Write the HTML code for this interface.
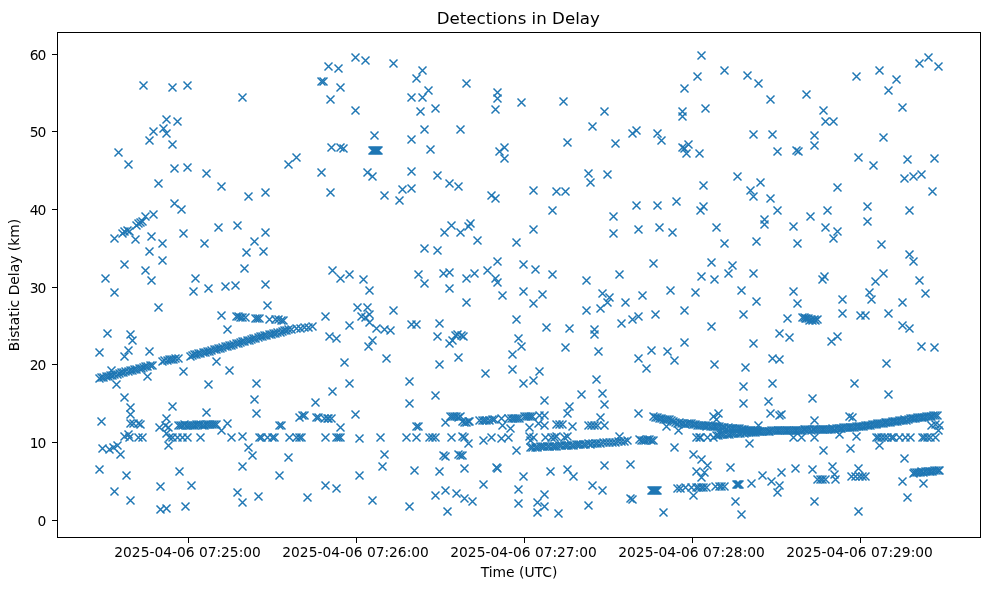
<!DOCTYPE html>
<html lang="en"><head><meta charset="utf-8"><title>Detections in Delay</title>
<style>html,body{margin:0;padding:0;background:#fff}svg{display:block}text{font-family:"DejaVu Sans","Liberation Sans",sans-serif;fill:#000}</style></head><body>
<svg width="990" height="590" viewBox="0 0 990 590">
<rect width="990" height="590" fill="#fff"/>
<g fill="none" stroke="#1f77b4" stroke-width="1.5">
<path d="M139.5 81.5l8 8m-8 0l8-8"/>
<path d="M168.5 83.5l8 8m-8 0l8-8"/>
<path d="M183.5 81.5l8 8m-8 0l8-8"/>
<path d="M238.5 93.5l8 8m-8 0l8-8"/>
<path d="M162.5 115.5l8 8m-8 0l8-8"/>
<path d="M173.5 117.5l8 8m-8 0l8-8"/>
<path d="M159.5 124.5l8 8m-8 0l8-8"/>
<path d="M149.5 127.5l8 8m-8 0l8-8"/>
<path d="M162.5 129.5l8 8m-8 0l8-8"/>
<path d="M145.5 136.5l8 8m-8 0l8-8"/>
<path d="M168.5 140.5l8 8m-8 0l8-8"/>
<path d="M114.5 148.5l8 8m-8 0l8-8"/>
<path d="M124.5 160.5l8 8m-8 0l8-8"/>
<path d="M170.5 164.5l8 8m-8 0l8-8"/>
<path d="M183.5 163.5l8 8m-8 0l8-8"/>
<path d="M202.5 169.5l8 8m-8 0l8-8"/>
<path d="M284.5 160.5l8 8m-8 0l8-8"/>
<path d="M292.5 153.5l8 8m-8 0l8-8"/>
<path d="M351.5 53.5l8 8m-8 0l8-8"/>
<path d="M361.5 56.5l8 8m-8 0l8-8"/>
<path d="M389.5 59.5l8 8m-8 0l8-8"/>
<path d="M324.5 62.5l8 8m-8 0l8-8"/>
<path d="M334.5 64.5l8 8m-8 0l8-8"/>
<path d="M418.5 66.5l8 8m-8 0l8-8"/>
<path d="M412.5 74.5l8 8m-8 0l8-8"/>
<path d="M317.5 77.5l8 8m-8 0l8-8"/>
<path d="M319.5 77.5l8 8m-8 0l8-8"/>
<path d="M462.5 79.5l8 8m-8 0l8-8"/>
<path d="M336.5 83.5l8 8m-8 0l8-8"/>
<path d="M424.5 86.5l8 8m-8 0l8-8"/>
<path d="M493.5 88.5l8 8m-8 0l8-8"/>
<path d="M407.5 93.5l8 8m-8 0l8-8"/>
<path d="M418.5 93.5l8 8m-8 0l8-8"/>
<path d="M493.5 94.5l8 8m-8 0l8-8"/>
<path d="M326.5 95.5l8 8m-8 0l8-8"/>
<path d="M517.5 98.5l8 8m-8 0l8-8"/>
<path d="M431.5 104.5l8 8m-8 0l8-8"/>
<path d="M491.5 105.5l8 8m-8 0l8-8"/>
<path d="M351.5 106.5l8 8m-8 0l8-8"/>
<path d="M416.5 107.5l8 8m-8 0l8-8"/>
<path d="M420.5 125.5l8 8m-8 0l8-8"/>
<path d="M456.5 125.5l8 8m-8 0l8-8"/>
<path d="M370.5 131.5l8 8m-8 0l8-8"/>
<path d="M407.5 135.5l8 8m-8 0l8-8"/>
<path d="M327.5 143.5l8 8m-8 0l8-8"/>
<path d="M336.5 143.5l8 8m-8 0l8-8"/>
<path d="M339.5 144.5l8 8m-8 0l8-8"/>
<path d="M500.5 143.5l8 8m-8 0l8-8"/>
<path d="M495.5 147.5l8 8m-8 0l8-8"/>
<path d="M426.5 145.5l8 8m-8 0l8-8"/>
<path d="M368.5 146.5l8 8m-8 0l8-8"/>
<path d="M369.5 146.5l8 8m-8 0l8-8"/>
<path d="M370.5 146.5l8 8m-8 0l8-8"/>
<path d="M371.5 146.5l8 8m-8 0l8-8"/>
<path d="M372.5 146.5l8 8m-8 0l8-8"/>
<path d="M373.5 146.5l8 8m-8 0l8-8"/>
<path d="M374.5 146.5l8 8m-8 0l8-8"/>
<path d="M500.5 154.5l8 8m-8 0l8-8"/>
<path d="M317.5 168.5l8 8m-8 0l8-8"/>
<path d="M407.5 167.5l8 8m-8 0l8-8"/>
<path d="M363.5 168.5l8 8m-8 0l8-8"/>
<path d="M368.5 172.5l8 8m-8 0l8-8"/>
<path d="M433.5 171.5l8 8m-8 0l8-8"/>
<path d="M697.5 51.5l8 8m-8 0l8-8"/>
<path d="M720.5 66.5l8 8m-8 0l8-8"/>
<path d="M693.5 72.5l8 8m-8 0l8-8"/>
<path d="M743.5 71.5l8 8m-8 0l8-8"/>
<path d="M754.5 79.5l8 8m-8 0l8-8"/>
<path d="M680.5 84.5l8 8m-8 0l8-8"/>
<path d="M766.5 95.5l8 8m-8 0l8-8"/>
<path d="M559.5 97.5l8 8m-8 0l8-8"/>
<path d="M701.5 104.5l8 8m-8 0l8-8"/>
<path d="M600.5 107.5l8 8m-8 0l8-8"/>
<path d="M678.5 107.5l8 8m-8 0l8-8"/>
<path d="M678.5 112.5l8 8m-8 0l8-8"/>
<path d="M588.5 122.5l8 8m-8 0l8-8"/>
<path d="M632.5 126.5l8 8m-8 0l8-8"/>
<path d="M628.5 129.5l8 8m-8 0l8-8"/>
<path d="M653.5 129.5l8 8m-8 0l8-8"/>
<path d="M749.5 130.5l8 8m-8 0l8-8"/>
<path d="M768.5 130.5l8 8m-8 0l8-8"/>
<path d="M657.5 136.5l8 8m-8 0l8-8"/>
<path d="M563.5 138.5l8 8m-8 0l8-8"/>
<path d="M611.5 139.5l8 8m-8 0l8-8"/>
<path d="M684.5 140.5l8 8m-8 0l8-8"/>
<path d="M678.5 143.5l8 8m-8 0l8-8"/>
<path d="M680.5 144.5l8 8m-8 0l8-8"/>
<path d="M682.5 149.5l8 8m-8 0l8-8"/>
<path d="M695.5 149.5l8 8m-8 0l8-8"/>
<path d="M773.5 147.5l8 8m-8 0l8-8"/>
<path d="M792.5 146.5l8 8m-8 0l8-8"/>
<path d="M794.5 147.5l8 8m-8 0l8-8"/>
<path d="M584.5 169.5l8 8m-8 0l8-8"/>
<path d="M603.5 170.5l8 8m-8 0l8-8"/>
<path d="M733.5 172.5l8 8m-8 0l8-8"/>
<path d="M802.5 90.5l8 8m-8 0l8-8"/>
<path d="M819.5 106.5l8 8m-8 0l8-8"/>
<path d="M821.5 117.5l8 8m-8 0l8-8"/>
<path d="M829.5 117.5l8 8m-8 0l8-8"/>
<path d="M810.5 131.5l8 8m-8 0l8-8"/>
<path d="M810.5 141.5l8 8m-8 0l8-8"/>
<path d="M852.5 72.5l8 8m-8 0l8-8"/>
<path d="M875.5 66.5l8 8m-8 0l8-8"/>
<path d="M892.5 75.5l8 8m-8 0l8-8"/>
<path d="M884.5 86.5l8 8m-8 0l8-8"/>
<path d="M898.5 103.5l8 8m-8 0l8-8"/>
<path d="M915.5 59.5l8 8m-8 0l8-8"/>
<path d="M924.5 53.5l8 8m-8 0l8-8"/>
<path d="M934.5 62.5l8 8m-8 0l8-8"/>
<path d="M879.5 133.5l8 8m-8 0l8-8"/>
<path d="M854.5 153.5l8 8m-8 0l8-8"/>
<path d="M869.5 161.5l8 8m-8 0l8-8"/>
<path d="M903.5 155.5l8 8m-8 0l8-8"/>
<path d="M930.5 154.5l8 8m-8 0l8-8"/>
<path d="M917.5 170.5l8 8m-8 0l8-8"/>
<path d="M909.5 172.5l8 8m-8 0l8-8"/>
<path d="M900.5 174.5l8 8m-8 0l8-8"/>
<path d="M154.5 179.5l8 8m-8 0l8-8"/>
<path d="M217.5 182.5l8 8m-8 0l8-8"/>
<path d="M261.5 188.5l8 8m-8 0l8-8"/>
<path d="M244.5 192.5l8 8m-8 0l8-8"/>
<path d="M170.5 199.5l8 8m-8 0l8-8"/>
<path d="M177.5 205.5l8 8m-8 0l8-8"/>
<path d="M149.5 210.5l8 8m-8 0l8-8"/>
<path d="M141.5 212.5l8 8m-8 0l8-8"/>
<path d="M110.5 234.5l8 8m-8 0l8-8"/>
<path d="M118.5 229.5l8 8m-8 0l8-8"/>
<path d="M120.5 227.5l8 8m-8 0l8-8"/>
<path d="M123.5 226.5l8 8m-8 0l8-8"/>
<path d="M125.5 227.5l8 8m-8 0l8-8"/>
<path d="M132.5 221.5l8 8m-8 0l8-8"/>
<path d="M134.5 219.5l8 8m-8 0l8-8"/>
<path d="M136.5 218.5l8 8m-8 0l8-8"/>
<path d="M138.5 217.5l8 8m-8 0l8-8"/>
<path d="M131.5 235.5l8 8m-8 0l8-8"/>
<path d="M147.5 232.5l8 8m-8 0l8-8"/>
<path d="M158.5 239.5l8 8m-8 0l8-8"/>
<path d="M179.5 229.5l8 8m-8 0l8-8"/>
<path d="M214.5 223.5l8 8m-8 0l8-8"/>
<path d="M233.5 221.5l8 8m-8 0l8-8"/>
<path d="M261.5 228.5l8 8m-8 0l8-8"/>
<path d="M250.5 237.5l8 8m-8 0l8-8"/>
<path d="M200.5 239.5l8 8m-8 0l8-8"/>
<path d="M145.5 247.5l8 8m-8 0l8-8"/>
<path d="M242.5 248.5l8 8m-8 0l8-8"/>
<path d="M259.5 247.5l8 8m-8 0l8-8"/>
<path d="M158.5 256.5l8 8m-8 0l8-8"/>
<path d="M120.5 260.5l8 8m-8 0l8-8"/>
<path d="M141.5 266.5l8 8m-8 0l8-8"/>
<path d="M240.5 264.5l8 8m-8 0l8-8"/>
<path d="M101.5 274.5l8 8m-8 0l8-8"/>
<path d="M147.5 276.5l8 8m-8 0l8-8"/>
<path d="M191.5 274.5l8 8m-8 0l8-8"/>
<path d="M110.5 288.5l8 8m-8 0l8-8"/>
<path d="M189.5 287.5l8 8m-8 0l8-8"/>
<path d="M204.5 284.5l8 8m-8 0l8-8"/>
<path d="M221.5 282.5l8 8m-8 0l8-8"/>
<path d="M231.5 281.5l8 8m-8 0l8-8"/>
<path d="M261.5 280.5l8 8m-8 0l8-8"/>
<path d="M154.5 303.5l8 8m-8 0l8-8"/>
<path d="M263.5 301.5l8 8m-8 0l8-8"/>
<path d="M217.5 311.5l8 8m-8 0l8-8"/>
<path d="M232.5 312.5l8 8m-8 0l8-8"/>
<path d="M234.5 312.5l8 8m-8 0l8-8"/>
<path d="M236.5 313.5l8 8m-8 0l8-8"/>
<path d="M238.5 313.5l8 8m-8 0l8-8"/>
<path d="M241.5 313.5l8 8m-8 0l8-8"/>
<path d="M251.5 314.5l8 8m-8 0l8-8"/>
<path d="M253.5 314.5l8 8m-8 0l8-8"/>
<path d="M255.5 314.5l8 8m-8 0l8-8"/>
<path d="M265.5 315.5l8 8m-8 0l8-8"/>
<path d="M271.5 315.5l8 8m-8 0l8-8"/>
<path d="M274.5 315.5l8 8m-8 0l8-8"/>
<path d="M277.5 316.5l8 8m-8 0l8-8"/>
<path d="M279.5 316.5l8 8m-8 0l8-8"/>
<path d="M223.5 325.5l8 8m-8 0l8-8"/>
<path d="M445.5 179.5l8 8m-8 0l8-8"/>
<path d="M454.5 182.5l8 8m-8 0l8-8"/>
<path d="M326.5 188.5l8 8m-8 0l8-8"/>
<path d="M398.5 185.5l8 8m-8 0l8-8"/>
<path d="M407.5 184.5l8 8m-8 0l8-8"/>
<path d="M380.5 191.5l8 8m-8 0l8-8"/>
<path d="M395.5 196.5l8 8m-8 0l8-8"/>
<path d="M487.5 191.5l8 8m-8 0l8-8"/>
<path d="M491.5 194.5l8 8m-8 0l8-8"/>
<path d="M529.5 186.5l8 8m-8 0l8-8"/>
<path d="M548.5 206.5l8 8m-8 0l8-8"/>
<path d="M447.5 221.5l8 8m-8 0l8-8"/>
<path d="M466.5 219.5l8 8m-8 0l8-8"/>
<path d="M464.5 222.5l8 8m-8 0l8-8"/>
<path d="M440.5 228.5l8 8m-8 0l8-8"/>
<path d="M456.5 228.5l8 8m-8 0l8-8"/>
<path d="M473.5 236.5l8 8m-8 0l8-8"/>
<path d="M529.5 225.5l8 8m-8 0l8-8"/>
<path d="M512.5 238.5l8 8m-8 0l8-8"/>
<path d="M420.5 244.5l8 8m-8 0l8-8"/>
<path d="M433.5 246.5l8 8m-8 0l8-8"/>
<path d="M493.5 257.5l8 8m-8 0l8-8"/>
<path d="M519.5 260.5l8 8m-8 0l8-8"/>
<path d="M531.5 265.5l8 8m-8 0l8-8"/>
<path d="M328.5 266.5l8 8m-8 0l8-8"/>
<path d="M483.5 266.5l8 8m-8 0l8-8"/>
<path d="M345.5 270.5l8 8m-8 0l8-8"/>
<path d="M336.5 274.5l8 8m-8 0l8-8"/>
<path d="M359.5 275.5l8 8m-8 0l8-8"/>
<path d="M414.5 270.5l8 8m-8 0l8-8"/>
<path d="M439.5 269.5l8 8m-8 0l8-8"/>
<path d="M445.5 268.5l8 8m-8 0l8-8"/>
<path d="M470.5 269.5l8 8m-8 0l8-8"/>
<path d="M462.5 274.5l8 8m-8 0l8-8"/>
<path d="M491.5 274.5l8 8m-8 0l8-8"/>
<path d="M493.5 278.5l8 8m-8 0l8-8"/>
<path d="M548.5 270.5l8 8m-8 0l8-8"/>
<path d="M420.5 279.5l8 8m-8 0l8-8"/>
<path d="M445.5 284.5l8 8m-8 0l8-8"/>
<path d="M365.5 286.5l8 8m-8 0l8-8"/>
<path d="M519.5 287.5l8 8m-8 0l8-8"/>
<path d="M538.5 290.5l8 8m-8 0l8-8"/>
<path d="M498.5 291.5l8 8m-8 0l8-8"/>
<path d="M462.5 298.5l8 8m-8 0l8-8"/>
<path d="M529.5 299.5l8 8m-8 0l8-8"/>
<path d="M353.5 303.5l8 8m-8 0l8-8"/>
<path d="M363.5 303.5l8 8m-8 0l8-8"/>
<path d="M389.5 306.5l8 8m-8 0l8-8"/>
<path d="M321.5 312.5l8 8m-8 0l8-8"/>
<path d="M357.5 312.5l8 8m-8 0l8-8"/>
<path d="M361.5 313.5l8 8m-8 0l8-8"/>
<path d="M365.5 310.5l8 8m-8 0l8-8"/>
<path d="M512.5 315.5l8 8m-8 0l8-8"/>
<path d="M345.5 321.5l8 8m-8 0l8-8"/>
<path d="M365.5 318.5l8 8m-8 0l8-8"/>
<path d="M372.5 324.5l8 8m-8 0l8-8"/>
<path d="M380.5 325.5l8 8m-8 0l8-8"/>
<path d="M386.5 326.5l8 8m-8 0l8-8"/>
<path d="M407.5 320.5l8 8m-8 0l8-8"/>
<path d="M412.5 320.5l8 8m-8 0l8-8"/>
<path d="M435.5 319.5l8 8m-8 0l8-8"/>
<path d="M542.5 323.5l8 8m-8 0l8-8"/>
<path d="M586.5 178.5l8 8m-8 0l8-8"/>
<path d="M756.5 178.5l8 8m-8 0l8-8"/>
<path d="M552.5 187.5l8 8m-8 0l8-8"/>
<path d="M561.5 187.5l8 8m-8 0l8-8"/>
<path d="M699.5 181.5l8 8m-8 0l8-8"/>
<path d="M746.5 186.5l8 8m-8 0l8-8"/>
<path d="M749.5 192.5l8 8m-8 0l8-8"/>
<path d="M766.5 194.5l8 8m-8 0l8-8"/>
<path d="M773.5 206.5l8 8m-8 0l8-8"/>
<path d="M632.5 201.5l8 8m-8 0l8-8"/>
<path d="M653.5 201.5l8 8m-8 0l8-8"/>
<path d="M672.5 197.5l8 8m-8 0l8-8"/>
<path d="M699.5 202.5l8 8m-8 0l8-8"/>
<path d="M696.5 206.5l8 8m-8 0l8-8"/>
<path d="M609.5 212.5l8 8m-8 0l8-8"/>
<path d="M760.5 215.5l8 8m-8 0l8-8"/>
<path d="M760.5 220.5l8 8m-8 0l8-8"/>
<path d="M789.5 222.5l8 8m-8 0l8-8"/>
<path d="M634.5 225.5l8 8m-8 0l8-8"/>
<path d="M655.5 223.5l8 8m-8 0l8-8"/>
<path d="M668.5 228.5l8 8m-8 0l8-8"/>
<path d="M609.5 229.5l8 8m-8 0l8-8"/>
<path d="M712.5 223.5l8 8m-8 0l8-8"/>
<path d="M720.5 239.5l8 8m-8 0l8-8"/>
<path d="M752.5 237.5l8 8m-8 0l8-8"/>
<path d="M793.5 239.5l8 8m-8 0l8-8"/>
<path d="M649.5 259.5l8 8m-8 0l8-8"/>
<path d="M707.5 258.5l8 8m-8 0l8-8"/>
<path d="M728.5 261.5l8 8m-8 0l8-8"/>
<path d="M615.5 270.5l8 8m-8 0l8-8"/>
<path d="M724.5 269.5l8 8m-8 0l8-8"/>
<path d="M749.5 269.5l8 8m-8 0l8-8"/>
<path d="M697.5 272.5l8 8m-8 0l8-8"/>
<path d="M710.5 275.5l8 8m-8 0l8-8"/>
<path d="M582.5 276.5l8 8m-8 0l8-8"/>
<path d="M666.5 286.5l8 8m-8 0l8-8"/>
<path d="M691.5 288.5l8 8m-8 0l8-8"/>
<path d="M737.5 286.5l8 8m-8 0l8-8"/>
<path d="M789.5 287.5l8 8m-8 0l8-8"/>
<path d="M598.5 289.5l8 8m-8 0l8-8"/>
<path d="M605.5 293.5l8 8m-8 0l8-8"/>
<path d="M638.5 291.5l8 8m-8 0l8-8"/>
<path d="M603.5 298.5l8 8m-8 0l8-8"/>
<path d="M621.5 298.5l8 8m-8 0l8-8"/>
<path d="M752.5 297.5l8 8m-8 0l8-8"/>
<path d="M793.5 299.5l8 8m-8 0l8-8"/>
<path d="M582.5 306.5l8 8m-8 0l8-8"/>
<path d="M596.5 304.5l8 8m-8 0l8-8"/>
<path d="M680.5 306.5l8 8m-8 0l8-8"/>
<path d="M651.5 310.5l8 8m-8 0l8-8"/>
<path d="M739.5 310.5l8 8m-8 0l8-8"/>
<path d="M634.5 312.5l8 8m-8 0l8-8"/>
<path d="M628.5 315.5l8 8m-8 0l8-8"/>
<path d="M617.5 319.5l8 8m-8 0l8-8"/>
<path d="M783.5 314.5l8 8m-8 0l8-8"/>
<path d="M565.5 324.5l8 8m-8 0l8-8"/>
<path d="M590.5 325.5l8 8m-8 0l8-8"/>
<path d="M707.5 322.5l8 8m-8 0l8-8"/>
<path d="M833.5 183.5l8 8m-8 0l8-8"/>
<path d="M928.5 187.5l8 8m-8 0l8-8"/>
<path d="M806.5 212.5l8 8m-8 0l8-8"/>
<path d="M823.5 206.5l8 8m-8 0l8-8"/>
<path d="M863.5 202.5l8 8m-8 0l8-8"/>
<path d="M905.5 206.5l8 8m-8 0l8-8"/>
<path d="M821.5 223.5l8 8m-8 0l8-8"/>
<path d="M833.5 227.5l8 8m-8 0l8-8"/>
<path d="M863.5 217.5l8 8m-8 0l8-8"/>
<path d="M829.5 234.5l8 8m-8 0l8-8"/>
<path d="M877.5 240.5l8 8m-8 0l8-8"/>
<path d="M905.5 250.5l8 8m-8 0l8-8"/>
<path d="M909.5 257.5l8 8m-8 0l8-8"/>
<path d="M820.5 272.5l8 8m-8 0l8-8"/>
<path d="M818.5 275.5l8 8m-8 0l8-8"/>
<path d="M879.5 269.5l8 8m-8 0l8-8"/>
<path d="M871.5 277.5l8 8m-8 0l8-8"/>
<path d="M915.5 276.5l8 8m-8 0l8-8"/>
<path d="M865.5 288.5l8 8m-8 0l8-8"/>
<path d="M921.5 289.5l8 8m-8 0l8-8"/>
<path d="M838.5 295.5l8 8m-8 0l8-8"/>
<path d="M867.5 295.5l8 8m-8 0l8-8"/>
<path d="M898.5 298.5l8 8m-8 0l8-8"/>
<path d="M838.5 309.5l8 8m-8 0l8-8"/>
<path d="M856.5 311.5l8 8m-8 0l8-8"/>
<path d="M861.5 311.5l8 8m-8 0l8-8"/>
<path d="M884.5 309.5l8 8m-8 0l8-8"/>
<path d="M898.5 321.5l8 8m-8 0l8-8"/>
<path d="M905.5 324.5l8 8m-8 0l8-8"/>
<path d="M103.5 329.5l8 8m-8 0l8-8"/>
<path d="M126.5 330.5l8 8m-8 0l8-8"/>
<path d="M128.5 336.5l8 8m-8 0l8-8"/>
<path d="M95.5 348.5l8 8m-8 0l8-8"/>
<path d="M124.5 346.5l8 8m-8 0l8-8"/>
<path d="M120.5 352.5l8 8m-8 0l8-8"/>
<path d="M145.5 347.5l8 8m-8 0l8-8"/>
<path d="M143.5 372.5l8 8m-8 0l8-8"/>
<path d="M179.5 367.5l8 8m-8 0l8-8"/>
<path d="M212.5 357.5l8 8m-8 0l8-8"/>
<path d="M225.5 366.5l8 8m-8 0l8-8"/>
<path d="M112.5 380.5l8 8m-8 0l8-8"/>
<path d="M204.5 380.5l8 8m-8 0l8-8"/>
<path d="M252.5 379.5l8 8m-8 0l8-8"/>
<path d="M122.5 471.5l8 8m-8 0l8-8"/>
<path d="M275.5 471.5l8 8m-8 0l8-8"/>
<path d="M120.5 393.5l8 8m-8 0l8-8"/>
<path d="M126.5 403.5l8 8m-8 0l8-8"/>
<path d="M126.5 410.5l8 8m-8 0l8-8"/>
<path d="M97.5 417.5l8 8m-8 0l8-8"/>
<path d="M126.5 419.5l8 8m-8 0l8-8"/>
<path d="M129.5 419.5l8 8m-8 0l8-8"/>
<path d="M134.5 419.5l8 8m-8 0l8-8"/>
<path d="M136.5 420.5l8 8m-8 0l8-8"/>
<path d="M168.5 402.5l8 8m-8 0l8-8"/>
<path d="M202.5 408.5l8 8m-8 0l8-8"/>
<path d="M162.5 414.5l8 8m-8 0l8-8"/>
<path d="M155.5 423.5l8 8m-8 0l8-8"/>
<path d="M161.5 421.5l8 8m-8 0l8-8"/>
<path d="M164.5 423.5l8 8m-8 0l8-8"/>
<path d="M162.5 429.5l8 8m-8 0l8-8"/>
<path d="M120.5 432.5l8 8m-8 0l8-8"/>
<path d="M124.5 430.5l8 8m-8 0l8-8"/>
<path d="M125.5 433.5l8 8m-8 0l8-8"/>
<path d="M134.5 433.5l8 8m-8 0l8-8"/>
<path d="M138.5 433.5l8 8m-8 0l8-8"/>
<path d="M165.5 433.5l8 8m-8 0l8-8"/>
<path d="M168.5 433.5l8 8m-8 0l8-8"/>
<path d="M173.5 433.5l8 8m-8 0l8-8"/>
<path d="M178.5 433.5l8 8m-8 0l8-8"/>
<path d="M183.5 433.5l8 8m-8 0l8-8"/>
<path d="M196.5 433.5l8 8m-8 0l8-8"/>
<path d="M164.5 441.5l8 8m-8 0l8-8"/>
<path d="M98.5 444.5l8 8m-8 0l8-8"/>
<path d="M105.5 445.5l8 8m-8 0l8-8"/>
<path d="M109.5 443.5l8 8m-8 0l8-8"/>
<path d="M113.5 441.5l8 8m-8 0l8-8"/>
<path d="M116.5 450.5l8 8m-8 0l8-8"/>
<path d="M95.5 465.5l8 8m-8 0l8-8"/>
<path d="M175.5 467.5l8 8m-8 0l8-8"/>
<path d="M223.5 419.5l8 8m-8 0l8-8"/>
<path d="M217.5 426.5l8 8m-8 0l8-8"/>
<path d="M227.5 433.5l8 8m-8 0l8-8"/>
<path d="M238.5 432.5l8 8m-8 0l8-8"/>
<path d="M250.5 395.5l8 8m-8 0l8-8"/>
<path d="M252.5 409.5l8 8m-8 0l8-8"/>
<path d="M244.5 443.5l8 8m-8 0l8-8"/>
<path d="M248.5 451.5l8 8m-8 0l8-8"/>
<path d="M238.5 462.5l8 8m-8 0l8-8"/>
<path d="M255.5 433.5l8 8m-8 0l8-8"/>
<path d="M257.5 433.5l8 8m-8 0l8-8"/>
<path d="M263.5 433.5l8 8m-8 0l8-8"/>
<path d="M268.5 433.5l8 8m-8 0l8-8"/>
<path d="M270.5 433.5l8 8m-8 0l8-8"/>
<path d="M285.5 433.5l8 8m-8 0l8-8"/>
<path d="M292.5 433.5l8 8m-8 0l8-8"/>
<path d="M295.5 433.5l8 8m-8 0l8-8"/>
<path d="M297.5 433.5l8 8m-8 0l8-8"/>
<path d="M321.5 433.5l8 8m-8 0l8-8"/>
<path d="M275.5 421.5l8 8m-8 0l8-8"/>
<path d="M277.5 421.5l8 8m-8 0l8-8"/>
<path d="M295.5 413.5l8 8m-8 0l8-8"/>
<path d="M298.5 411.5l8 8m-8 0l8-8"/>
<path d="M300.5 411.5l8 8m-8 0l8-8"/>
<path d="M311.5 398.5l8 8m-8 0l8-8"/>
<path d="M312.5 413.5l8 8m-8 0l8-8"/>
<path d="M314.5 413.5l8 8m-8 0l8-8"/>
<path d="M320.5 414.5l8 8m-8 0l8-8"/>
<path d="M323.5 414.5l8 8m-8 0l8-8"/>
<path d="M324.5 414.5l8 8m-8 0l8-8"/>
<path d="M284.5 453.5l8 8m-8 0l8-8"/>
<path d="M325.5 332.5l8 8m-8 0l8-8"/>
<path d="M332.5 334.5l8 8m-8 0l8-8"/>
<path d="M433.5 332.5l8 8m-8 0l8-8"/>
<path d="M368.5 336.5l8 8m-8 0l8-8"/>
<path d="M364.5 342.5l8 8m-8 0l8-8"/>
<path d="M453.5 330.5l8 8m-8 0l8-8"/>
<path d="M457.5 331.5l8 8m-8 0l8-8"/>
<path d="M459.5 332.5l8 8m-8 0l8-8"/>
<path d="M448.5 336.5l8 8m-8 0l8-8"/>
<path d="M445.5 339.5l8 8m-8 0l8-8"/>
<path d="M514.5 334.5l8 8m-8 0l8-8"/>
<path d="M517.5 342.5l8 8m-8 0l8-8"/>
<path d="M382.5 354.5l8 8m-8 0l8-8"/>
<path d="M454.5 353.5l8 8m-8 0l8-8"/>
<path d="M508.5 350.5l8 8m-8 0l8-8"/>
<path d="M340.5 358.5l8 8m-8 0l8-8"/>
<path d="M435.5 360.5l8 8m-8 0l8-8"/>
<path d="M481.5 369.5l8 8m-8 0l8-8"/>
<path d="M508.5 365.5l8 8m-8 0l8-8"/>
<path d="M535.5 367.5l8 8m-8 0l8-8"/>
<path d="M529.5 376.5l8 8m-8 0l8-8"/>
<path d="M519.5 379.5l8 8m-8 0l8-8"/>
<path d="M405.5 377.5l8 8m-8 0l8-8"/>
<path d="M345.5 379.5l8 8m-8 0l8-8"/>
<path d="M328.5 387.5l8 8m-8 0l8-8"/>
<path d="M431.5 391.5l8 8m-8 0l8-8"/>
<path d="M405.5 399.5l8 8m-8 0l8-8"/>
<path d="M351.5 410.5l8 8m-8 0l8-8"/>
<path d="M327.5 414.5l8 8m-8 0l8-8"/>
<path d="M336.5 423.5l8 8m-8 0l8-8"/>
<path d="M332.5 433.5l8 8m-8 0l8-8"/>
<path d="M334.5 433.5l8 8m-8 0l8-8"/>
<path d="M336.5 433.5l8 8m-8 0l8-8"/>
<path d="M355.5 434.5l8 8m-8 0l8-8"/>
<path d="M376.5 433.5l8 8m-8 0l8-8"/>
<path d="M402.5 433.5l8 8m-8 0l8-8"/>
<path d="M412.5 433.5l8 8m-8 0l8-8"/>
<path d="M425.5 433.5l8 8m-8 0l8-8"/>
<path d="M412.5 422.5l8 8m-8 0l8-8"/>
<path d="M414.5 422.5l8 8m-8 0l8-8"/>
<path d="M380.5 450.5l8 8m-8 0l8-8"/>
<path d="M378.5 462.5l8 8m-8 0l8-8"/>
<path d="M355.5 471.5l8 8m-8 0l8-8"/>
<path d="M410.5 466.5l8 8m-8 0l8-8"/>
<path d="M540.5 396.5l8 8m-8 0l8-8"/>
<path d="M441.5 418.5l8 8m-8 0l8-8"/>
<path d="M446.5 412.5l8 8m-8 0l8-8"/>
<path d="M448.5 412.5l8 8m-8 0l8-8"/>
<path d="M450.5 412.5l8 8m-8 0l8-8"/>
<path d="M452.5 412.5l8 8m-8 0l8-8"/>
<path d="M454.5 413.5l8 8m-8 0l8-8"/>
<path d="M456.5 412.5l8 8m-8 0l8-8"/>
<path d="M458.5 417.5l8 8m-8 0l8-8"/>
<path d="M460.5 418.5l8 8m-8 0l8-8"/>
<path d="M462.5 418.5l8 8m-8 0l8-8"/>
<path d="M464.5 417.5l8 8m-8 0l8-8"/>
<path d="M465.5 417.5l8 8m-8 0l8-8"/>
<path d="M475.5 416.5l8 8m-8 0l8-8"/>
<path d="M478.5 416.5l8 8m-8 0l8-8"/>
<path d="M480.5 416.5l8 8m-8 0l8-8"/>
<path d="M482.5 416.5l8 8m-8 0l8-8"/>
<path d="M485.5 416.5l8 8m-8 0l8-8"/>
<path d="M488.5 415.5l8 8m-8 0l8-8"/>
<path d="M490.5 415.5l8 8m-8 0l8-8"/>
<path d="M497.5 414.5l8 8m-8 0l8-8"/>
<path d="M498.5 421.5l8 8m-8 0l8-8"/>
<path d="M506.5 424.5l8 8m-8 0l8-8"/>
<path d="M504.5 414.5l8 8m-8 0l8-8"/>
<path d="M507.5 414.5l8 8m-8 0l8-8"/>
<path d="M509.5 414.5l8 8m-8 0l8-8"/>
<path d="M511.5 414.5l8 8m-8 0l8-8"/>
<path d="M513.5 414.5l8 8m-8 0l8-8"/>
<path d="M515.5 414.5l8 8m-8 0l8-8"/>
<path d="M520.5 412.5l8 8m-8 0l8-8"/>
<path d="M522.5 412.5l8 8m-8 0l8-8"/>
<path d="M524.5 412.5l8 8m-8 0l8-8"/>
<path d="M526.5 412.5l8 8m-8 0l8-8"/>
<path d="M528.5 412.5l8 8m-8 0l8-8"/>
<path d="M535.5 411.5l8 8m-8 0l8-8"/>
<path d="M540.5 411.5l8 8m-8 0l8-8"/>
<path d="M534.5 419.5l8 8m-8 0l8-8"/>
<path d="M540.5 421.5l8 8m-8 0l8-8"/>
<path d="M525.5 423.5l8 8m-8 0l8-8"/>
<path d="M428.5 433.5l8 8m-8 0l8-8"/>
<path d="M431.5 433.5l8 8m-8 0l8-8"/>
<path d="M447.5 433.5l8 8m-8 0l8-8"/>
<path d="M458.5 432.5l8 8m-8 0l8-8"/>
<path d="M460.5 433.5l8 8m-8 0l8-8"/>
<path d="M464.5 439.5l8 8m-8 0l8-8"/>
<path d="M479.5 436.5l8 8m-8 0l8-8"/>
<path d="M487.5 433.5l8 8m-8 0l8-8"/>
<path d="M497.5 434.5l8 8m-8 0l8-8"/>
<path d="M504.5 433.5l8 8m-8 0l8-8"/>
<path d="M525.5 432.5l8 8m-8 0l8-8"/>
<path d="M529.5 433.5l8 8m-8 0l8-8"/>
<path d="M526.5 436.5l8 8m-8 0l8-8"/>
<path d="M541.5 433.5l8 8m-8 0l8-8"/>
<path d="M512.5 446.5l8 8m-8 0l8-8"/>
<path d="M439.5 451.5l8 8m-8 0l8-8"/>
<path d="M441.5 452.5l8 8m-8 0l8-8"/>
<path d="M454.5 450.5l8 8m-8 0l8-8"/>
<path d="M456.5 451.5l8 8m-8 0l8-8"/>
<path d="M458.5 451.5l8 8m-8 0l8-8"/>
<path d="M460.5 464.5l8 8m-8 0l8-8"/>
<path d="M435.5 467.5l8 8m-8 0l8-8"/>
<path d="M492.5 463.5l8 8m-8 0l8-8"/>
<path d="M493.5 464.5l8 8m-8 0l8-8"/>
<path d="M519.5 472.5l8 8m-8 0l8-8"/>
<path d="M546.5 467.5l8 8m-8 0l8-8"/>
<path d="M590.5 330.5l8 8m-8 0l8-8"/>
<path d="M775.5 329.5l8 8m-8 0l8-8"/>
<path d="M785.5 333.5l8 8m-8 0l8-8"/>
<path d="M561.5 343.5l8 8m-8 0l8-8"/>
<path d="M594.5 347.5l8 8m-8 0l8-8"/>
<path d="M680.5 338.5l8 8m-8 0l8-8"/>
<path d="M749.5 339.5l8 8m-8 0l8-8"/>
<path d="M647.5 346.5l8 8m-8 0l8-8"/>
<path d="M663.5 347.5l8 8m-8 0l8-8"/>
<path d="M634.5 354.5l8 8m-8 0l8-8"/>
<path d="M670.5 356.5l8 8m-8 0l8-8"/>
<path d="M642.5 364.5l8 8m-8 0l8-8"/>
<path d="M710.5 360.5l8 8m-8 0l8-8"/>
<path d="M741.5 363.5l8 8m-8 0l8-8"/>
<path d="M768.5 354.5l8 8m-8 0l8-8"/>
<path d="M775.5 355.5l8 8m-8 0l8-8"/>
<path d="M592.5 375.5l8 8m-8 0l8-8"/>
<path d="M739.5 382.5l8 8m-8 0l8-8"/>
<path d="M768.5 379.5l8 8m-8 0l8-8"/>
<path d="M577.5 390.5l8 8m-8 0l8-8"/>
<path d="M598.5 389.5l8 8m-8 0l8-8"/>
<path d="M565.5 402.5l8 8m-8 0l8-8"/>
<path d="M563.5 409.5l8 8m-8 0l8-8"/>
<path d="M600.5 400.5l8 8m-8 0l8-8"/>
<path d="M596.5 413.5l8 8m-8 0l8-8"/>
<path d="M634.5 409.5l8 8m-8 0l8-8"/>
<path d="M552.5 420.5l8 8m-8 0l8-8"/>
<path d="M555.5 420.5l8 8m-8 0l8-8"/>
<path d="M558.5 420.5l8 8m-8 0l8-8"/>
<path d="M568.5 422.5l8 8m-8 0l8-8"/>
<path d="M584.5 421.5l8 8m-8 0l8-8"/>
<path d="M587.5 421.5l8 8m-8 0l8-8"/>
<path d="M590.5 421.5l8 8m-8 0l8-8"/>
<path d="M593.5 421.5l8 8m-8 0l8-8"/>
<path d="M600.5 421.5l8 8m-8 0l8-8"/>
<path d="M552.5 432.5l8 8m-8 0l8-8"/>
<path d="M560.5 433.5l8 8m-8 0l8-8"/>
<path d="M563.5 432.5l8 8m-8 0l8-8"/>
<path d="M615.5 432.5l8 8m-8 0l8-8"/>
<path d="M662.5 422.5l8 8m-8 0l8-8"/>
<path d="M674.5 426.5l8 8m-8 0l8-8"/>
<path d="M670.5 443.5l8 8m-8 0l8-8"/>
<path d="M600.5 461.5l8 8m-8 0l8-8"/>
<path d="M626.5 460.5l8 8m-8 0l8-8"/>
<path d="M563.5 465.5l8 8m-8 0l8-8"/>
<path d="M569.5 472.5l8 8m-8 0l8-8"/>
<path d="M739.5 399.5l8 8m-8 0l8-8"/>
<path d="M764.5 397.5l8 8m-8 0l8-8"/>
<path d="M766.5 409.5l8 8m-8 0l8-8"/>
<path d="M775.5 411.5l8 8m-8 0l8-8"/>
<path d="M777.5 410.5l8 8m-8 0l8-8"/>
<path d="M709.5 412.5l8 8m-8 0l8-8"/>
<path d="M714.5 409.5l8 8m-8 0l8-8"/>
<path d="M712.5 415.5l8 8m-8 0l8-8"/>
<path d="M754.5 421.5l8 8m-8 0l8-8"/>
<path d="M745.5 439.5l8 8m-8 0l8-8"/>
<path d="M689.5 450.5l8 8m-8 0l8-8"/>
<path d="M697.5 455.5l8 8m-8 0l8-8"/>
<path d="M703.5 461.5l8 8m-8 0l8-8"/>
<path d="M692.5 467.5l8 8m-8 0l8-8"/>
<path d="M700.5 468.5l8 8m-8 0l8-8"/>
<path d="M726.5 463.5l8 8m-8 0l8-8"/>
<path d="M758.5 471.5l8 8m-8 0l8-8"/>
<path d="M777.5 468.5l8 8m-8 0l8-8"/>
<path d="M791.5 464.5l8 8m-8 0l8-8"/>
<path d="M692.5 433.5l8 8m-8 0l8-8"/>
<path d="M695.5 433.5l8 8m-8 0l8-8"/>
<path d="M696.5 433.5l8 8m-8 0l8-8"/>
<path d="M703.5 433.5l8 8m-8 0l8-8"/>
<path d="M709.5 433.5l8 8m-8 0l8-8"/>
<path d="M789.5 433.5l8 8m-8 0l8-8"/>
<path d="M797.5 433.5l8 8m-8 0l8-8"/>
<path d="M827.5 337.5l8 8m-8 0l8-8"/>
<path d="M833.5 332.5l8 8m-8 0l8-8"/>
<path d="M808.5 394.5l8 8m-8 0l8-8"/>
<path d="M810.5 416.5l8 8m-8 0l8-8"/>
<path d="M850.5 379.5l8 8m-8 0l8-8"/>
<path d="M882.5 359.5l8 8m-8 0l8-8"/>
<path d="M884.5 390.5l8 8m-8 0l8-8"/>
<path d="M917.5 342.5l8 8m-8 0l8-8"/>
<path d="M930.5 343.5l8 8m-8 0l8-8"/>
<path d="M810.5 433.5l8 8m-8 0l8-8"/>
<path d="M819.5 446.5l8 8m-8 0l8-8"/>
<path d="M808.5 465.5l8 8m-8 0l8-8"/>
<path d="M830.5 470.5l8 8m-8 0l8-8"/>
<path d="M845.5 412.5l8 8m-8 0l8-8"/>
<path d="M848.5 413.5l8 8m-8 0l8-8"/>
<path d="M835.5 430.5l8 8m-8 0l8-8"/>
<path d="M852.5 432.5l8 8m-8 0l8-8"/>
<path d="M846.5 444.5l8 8m-8 0l8-8"/>
<path d="M875.5 441.5l8 8m-8 0l8-8"/>
<path d="M900.5 454.5l8 8m-8 0l8-8"/>
<path d="M872.5 433.5l8 8m-8 0l8-8"/>
<path d="M874.5 433.5l8 8m-8 0l8-8"/>
<path d="M877.5 433.5l8 8m-8 0l8-8"/>
<path d="M880.5 433.5l8 8m-8 0l8-8"/>
<path d="M883.5 433.5l8 8m-8 0l8-8"/>
<path d="M887.5 433.5l8 8m-8 0l8-8"/>
<path d="M889.5 433.5l8 8m-8 0l8-8"/>
<path d="M895.5 433.5l8 8m-8 0l8-8"/>
<path d="M901.5 433.5l8 8m-8 0l8-8"/>
<path d="M906.5 433.5l8 8m-8 0l8-8"/>
<path d="M918.5 433.5l8 8m-8 0l8-8"/>
<path d="M920.5 433.5l8 8m-8 0l8-8"/>
<path d="M923.5 433.5l8 8m-8 0l8-8"/>
<path d="M926.5 433.5l8 8m-8 0l8-8"/>
<path d="M931.5 433.5l8 8m-8 0l8-8"/>
<path d="M927.5 421.5l8 8m-8 0l8-8"/>
<path d="M931.5 420.5l8 8m-8 0l8-8"/>
<path d="M935.5 421.5l8 8m-8 0l8-8"/>
<path d="M934.5 426.5l8 8m-8 0l8-8"/>
<path d="M828.5 462.5l8 8m-8 0l8-8"/>
<path d="M854.5 464.5l8 8m-8 0l8-8"/>
<path d="M110.5 487.5l8 8m-8 0l8-8"/>
<path d="M126.5 496.5l8 8m-8 0l8-8"/>
<path d="M156.5 482.5l8 8m-8 0l8-8"/>
<path d="M187.5 481.5l8 8m-8 0l8-8"/>
<path d="M156.5 505.5l8 8m-8 0l8-8"/>
<path d="M162.5 504.5l8 8m-8 0l8-8"/>
<path d="M181.5 502.5l8 8m-8 0l8-8"/>
<path d="M233.5 488.5l8 8m-8 0l8-8"/>
<path d="M238.5 498.5l8 8m-8 0l8-8"/>
<path d="M254.5 492.5l8 8m-8 0l8-8"/>
<path d="M303.5 493.5l8 8m-8 0l8-8"/>
<path d="M321.5 481.5l8 8m-8 0l8-8"/>
<path d="M332.5 484.5l8 8m-8 0l8-8"/>
<path d="M368.5 496.5l8 8m-8 0l8-8"/>
<path d="M405.5 502.5l8 8m-8 0l8-8"/>
<path d="M431.5 491.5l8 8m-8 0l8-8"/>
<path d="M441.5 486.5l8 8m-8 0l8-8"/>
<path d="M443.5 507.5l8 8m-8 0l8-8"/>
<path d="M452.5 489.5l8 8m-8 0l8-8"/>
<path d="M460.5 494.5l8 8m-8 0l8-8"/>
<path d="M468.5 497.5l8 8m-8 0l8-8"/>
<path d="M479.5 480.5l8 8m-8 0l8-8"/>
<path d="M514.5 485.5l8 8m-8 0l8-8"/>
<path d="M514.5 499.5l8 8m-8 0l8-8"/>
<path d="M533.5 498.5l8 8m-8 0l8-8"/>
<path d="M540.5 490.5l8 8m-8 0l8-8"/>
<path d="M540.5 502.5l8 8m-8 0l8-8"/>
<path d="M533.5 508.5l8 8m-8 0l8-8"/>
<path d="M697.5 473.5l8 8m-8 0l8-8"/>
<path d="M588.5 481.5l8 8m-8 0l8-8"/>
<path d="M598.5 486.5l8 8m-8 0l8-8"/>
<path d="M584.5 501.5l8 8m-8 0l8-8"/>
<path d="M554.5 509.5l8 8m-8 0l8-8"/>
<path d="M626.5 494.5l8 8m-8 0l8-8"/>
<path d="M628.5 495.5l8 8m-8 0l8-8"/>
<path d="M659.5 508.5l8 8m-8 0l8-8"/>
<path d="M689.5 491.5l8 8m-8 0l8-8"/>
<path d="M731.5 497.5l8 8m-8 0l8-8"/>
<path d="M737.5 510.5l8 8m-8 0l8-8"/>
<path d="M747.5 479.5l8 8m-8 0l8-8"/>
<path d="M767.5 477.5l8 8m-8 0l8-8"/>
<path d="M775.5 481.5l8 8m-8 0l8-8"/>
<path d="M773.5 488.5l8 8m-8 0l8-8"/>
<path d="M647.5 486.5l8 8m-8 0l8-8"/>
<path d="M648.5 486.5l8 8m-8 0l8-8"/>
<path d="M649.5 486.5l8 8m-8 0l8-8"/>
<path d="M650.5 486.5l8 8m-8 0l8-8"/>
<path d="M651.5 486.5l8 8m-8 0l8-8"/>
<path d="M652.5 486.5l8 8m-8 0l8-8"/>
<path d="M653.5 486.5l8 8m-8 0l8-8"/>
<path d="M673.5 484.5l8 8m-8 0l8-8"/>
<path d="M676.5 484.5l8 8m-8 0l8-8"/>
<path d="M681.5 483.5l8 8m-8 0l8-8"/>
<path d="M687.5 483.5l8 8m-8 0l8-8"/>
<path d="M692.5 483.5l8 8m-8 0l8-8"/>
<path d="M694.5 483.5l8 8m-8 0l8-8"/>
<path d="M697.5 483.5l8 8m-8 0l8-8"/>
<path d="M699.5 483.5l8 8m-8 0l8-8"/>
<path d="M702.5 483.5l8 8m-8 0l8-8"/>
<path d="M711.5 482.5l8 8m-8 0l8-8"/>
<path d="M715.5 482.5l8 8m-8 0l8-8"/>
<path d="M717.5 482.5l8 8m-8 0l8-8"/>
<path d="M720.5 482.5l8 8m-8 0l8-8"/>
<path d="M732.5 480.5l8 8m-8 0l8-8"/>
<path d="M733.5 480.5l8 8m-8 0l8-8"/>
<path d="M734.5 480.5l8 8m-8 0l8-8"/>
<path d="M735.5 480.5l8 8m-8 0l8-8"/>
<path d="M831.5 475.5l8 8m-8 0l8-8"/>
<path d="M813.5 475.5l8 8m-8 0l8-8"/>
<path d="M816.5 475.5l8 8m-8 0l8-8"/>
<path d="M818.5 475.5l8 8m-8 0l8-8"/>
<path d="M821.5 475.5l8 8m-8 0l8-8"/>
<path d="M847.5 472.5l8 8m-8 0l8-8"/>
<path d="M851.5 472.5l8 8m-8 0l8-8"/>
<path d="M855.5 472.5l8 8m-8 0l8-8"/>
<path d="M858.5 472.5l8 8m-8 0l8-8"/>
<path d="M861.5 472.5l8 8m-8 0l8-8"/>
<path d="M810.5 497.5l8 8m-8 0l8-8"/>
<path d="M854.5 507.5l8 8m-8 0l8-8"/>
<path d="M898.5 477.5l8 8m-8 0l8-8"/>
<path d="M903.5 493.5l8 8m-8 0l8-8"/>
<path d="M919.5 479.5l8 8m-8 0l8-8"/>
<path d="M107.5 366.5l8 8m-8 0l8-8"/>
<path d="M451.5 331.5l8 8m-8 0l8-8"/>
<path d="M547.5 433.5l8 8m-8 0l8-8"/>
<path d="M550.5 433.5l8 8m-8 0l8-8"/>
<path d="M95.5 374.5l8 8m-8 0l8-8"/>
<path d="M97.5 373.5l8 8m-8 0l8-8"/>
<path d="M99.5 373.5l8 8m-8 0l8-8"/>
<path d="M102.5 372.5l8 8m-8 0l8-8"/>
<path d="M104.5 372.5l8 8m-8 0l8-8"/>
<path d="M106.5 371.5l8 8m-8 0l8-8"/>
<path d="M108.5 371.5l8 8m-8 0l8-8"/>
<path d="M110.5 370.5l8 8m-8 0l8-8"/>
<path d="M113.5 370.5l8 8m-8 0l8-8"/>
<path d="M115.5 369.5l8 8m-8 0l8-8"/>
<path d="M117.5 368.5l8 8m-8 0l8-8"/>
<path d="M119.5 368.5l8 8m-8 0l8-8"/>
<path d="M121.5 367.5l8 8m-8 0l8-8"/>
<path d="M124.5 367.5l8 8m-8 0l8-8"/>
<path d="M126.5 366.5l8 8m-8 0l8-8"/>
<path d="M128.5 366.5l8 8m-8 0l8-8"/>
<path d="M130.5 365.5l8 8m-8 0l8-8"/>
<path d="M132.5 365.5l8 8m-8 0l8-8"/>
<path d="M135.5 364.5l8 8m-8 0l8-8"/>
<path d="M137.5 364.5l8 8m-8 0l8-8"/>
<path d="M139.5 363.5l8 8m-8 0l8-8"/>
<path d="M141.5 362.5l8 8m-8 0l8-8"/>
<path d="M143.5 362.5l8 8m-8 0l8-8"/>
<path d="M146.5 361.5l8 8m-8 0l8-8"/>
<path d="M148.5 361.5l8 8m-8 0l8-8"/>
<path d="M158.5 357.5l8 8m-8 0l8-8"/>
<path d="M160.5 356.5l8 8m-8 0l8-8"/>
<path d="M163.5 356.5l8 8m-8 0l8-8"/>
<path d="M165.5 355.5l8 8m-8 0l8-8"/>
<path d="M167.5 355.5l8 8m-8 0l8-8"/>
<path d="M169.5 355.5l8 8m-8 0l8-8"/>
<path d="M171.5 354.5l8 8m-8 0l8-8"/>
<path d="M174.5 354.5l8 8m-8 0l8-8"/>
<path d="M186.5 352.5l8 8m-8 0l8-8"/>
<path d="M188.5 351.5l8 8m-8 0l8-8"/>
<path d="M190.5 350.5l8 8m-8 0l8-8"/>
<path d="M192.5 350.5l8 8m-8 0l8-8"/>
<path d="M194.5 349.5l8 8m-8 0l8-8"/>
<path d="M196.5 349.5l8 8m-8 0l8-8"/>
<path d="M199.5 348.5l8 8m-8 0l8-8"/>
<path d="M201.5 348.5l8 8m-8 0l8-8"/>
<path d="M203.5 347.5l8 8m-8 0l8-8"/>
<path d="M205.5 347.5l8 8m-8 0l8-8"/>
<path d="M207.5 346.5l8 8m-8 0l8-8"/>
<path d="M210.5 345.5l8 8m-8 0l8-8"/>
<path d="M212.5 345.5l8 8m-8 0l8-8"/>
<path d="M214.5 344.5l8 8m-8 0l8-8"/>
<path d="M216.5 344.5l8 8m-8 0l8-8"/>
<path d="M218.5 343.5l8 8m-8 0l8-8"/>
<path d="M221.5 342.5l8 8m-8 0l8-8"/>
<path d="M223.5 342.5l8 8m-8 0l8-8"/>
<path d="M225.5 341.5l8 8m-8 0l8-8"/>
<path d="M227.5 341.5l8 8m-8 0l8-8"/>
<path d="M229.5 340.5l8 8m-8 0l8-8"/>
<path d="M232.5 339.5l8 8m-8 0l8-8"/>
<path d="M234.5 339.5l8 8m-8 0l8-8"/>
<path d="M236.5 338.5l8 8m-8 0l8-8"/>
<path d="M238.5 337.5l8 8m-8 0l8-8"/>
<path d="M240.5 337.5l8 8m-8 0l8-8"/>
<path d="M243.5 336.5l8 8m-8 0l8-8"/>
<path d="M245.5 336.5l8 8m-8 0l8-8"/>
<path d="M247.5 335.5l8 8m-8 0l8-8"/>
<path d="M249.5 334.5l8 8m-8 0l8-8"/>
<path d="M251.5 334.5l8 8m-8 0l8-8"/>
<path d="M254.5 333.5l8 8m-8 0l8-8"/>
<path d="M256.5 332.5l8 8m-8 0l8-8"/>
<path d="M258.5 332.5l8 8m-8 0l8-8"/>
<path d="M260.5 331.5l8 8m-8 0l8-8"/>
<path d="M262.5 331.5l8 8m-8 0l8-8"/>
<path d="M265.5 330.5l8 8m-8 0l8-8"/>
<path d="M267.5 330.5l8 8m-8 0l8-8"/>
<path d="M269.5 329.5l8 8m-8 0l8-8"/>
<path d="M271.5 329.5l8 8m-8 0l8-8"/>
<path d="M273.5 328.5l8 8m-8 0l8-8"/>
<path d="M276.5 328.5l8 8m-8 0l8-8"/>
<path d="M278.5 327.5l8 8m-8 0l8-8"/>
<path d="M280.5 326.5l8 8m-8 0l8-8"/>
<path d="M282.5 326.5l8 8m-8 0l8-8"/>
<path d="M284.5 325.5l8 8m-8 0l8-8"/>
<path d="M287.5 325.5l8 8m-8 0l8-8"/>
<path d="M292.5 324.5l8 8m-8 0l8-8"/>
<path d="M296.5 324.5l8 8m-8 0l8-8"/>
<path d="M300.5 323.5l8 8m-8 0l8-8"/>
<path d="M304.5 323.5l8 8m-8 0l8-8"/>
<path d="M308.5 322.5l8 8m-8 0l8-8"/>
<path d="M174.5 421.5l8 8m-8 0l8-8"/>
<path d="M176.5 421.5l8 8m-8 0l8-8"/>
<path d="M178.5 421.5l8 8m-8 0l8-8"/>
<path d="M180.5 420.5l8 8m-8 0l8-8"/>
<path d="M182.5 421.5l8 8m-8 0l8-8"/>
<path d="M184.5 421.5l8 8m-8 0l8-8"/>
<path d="M186.5 421.5l8 8m-8 0l8-8"/>
<path d="M188.5 421.5l8 8m-8 0l8-8"/>
<path d="M190.5 421.5l8 8m-8 0l8-8"/>
<path d="M192.5 420.5l8 8m-8 0l8-8"/>
<path d="M194.5 420.5l8 8m-8 0l8-8"/>
<path d="M196.5 420.5l8 8m-8 0l8-8"/>
<path d="M198.5 421.5l8 8m-8 0l8-8"/>
<path d="M200.5 421.5l8 8m-8 0l8-8"/>
<path d="M202.5 420.5l8 8m-8 0l8-8"/>
<path d="M204.5 420.5l8 8m-8 0l8-8"/>
<path d="M206.5 420.5l8 8m-8 0l8-8"/>
<path d="M208.5 420.5l8 8m-8 0l8-8"/>
<path d="M210.5 420.5l8 8m-8 0l8-8"/>
<path d="M212.5 420.5l8 8m-8 0l8-8"/>
<path d="M526.5 443.5l8 8m-8 0l8-8"/>
<path d="M528.5 443.5l8 8m-8 0l8-8"/>
<path d="M531.5 443.5l8 8m-8 0l8-8"/>
<path d="M533.5 443.5l8 8m-8 0l8-8"/>
<path d="M536.5 442.5l8 8m-8 0l8-8"/>
<path d="M538.5 442.5l8 8m-8 0l8-8"/>
<path d="M540.5 442.5l8 8m-8 0l8-8"/>
<path d="M543.5 442.5l8 8m-8 0l8-8"/>
<path d="M545.5 442.5l8 8m-8 0l8-8"/>
<path d="M548.5 442.5l8 8m-8 0l8-8"/>
<path d="M550.5 442.5l8 8m-8 0l8-8"/>
<path d="M552.5 442.5l8 8m-8 0l8-8"/>
<path d="M555.5 441.5l8 8m-8 0l8-8"/>
<path d="M557.5 441.5l8 8m-8 0l8-8"/>
<path d="M560.5 441.5l8 8m-8 0l8-8"/>
<path d="M562.5 441.5l8 8m-8 0l8-8"/>
<path d="M564.5 441.5l8 8m-8 0l8-8"/>
<path d="M567.5 441.5l8 8m-8 0l8-8"/>
<path d="M569.5 441.5l8 8m-8 0l8-8"/>
<path d="M572.5 440.5l8 8m-8 0l8-8"/>
<path d="M574.5 440.5l8 8m-8 0l8-8"/>
<path d="M576.5 440.5l8 8m-8 0l8-8"/>
<path d="M579.5 440.5l8 8m-8 0l8-8"/>
<path d="M581.5 440.5l8 8m-8 0l8-8"/>
<path d="M584.5 439.5l8 8m-8 0l8-8"/>
<path d="M586.5 440.5l8 8m-8 0l8-8"/>
<path d="M588.5 439.5l8 8m-8 0l8-8"/>
<path d="M591.5 439.5l8 8m-8 0l8-8"/>
<path d="M593.5 439.5l8 8m-8 0l8-8"/>
<path d="M596.5 439.5l8 8m-8 0l8-8"/>
<path d="M599.5 438.5l8 8m-8 0l8-8"/>
<path d="M602.5 438.5l8 8m-8 0l8-8"/>
<path d="M605.5 438.5l8 8m-8 0l8-8"/>
<path d="M608.5 438.5l8 8m-8 0l8-8"/>
<path d="M611.5 438.5l8 8m-8 0l8-8"/>
<path d="M614.5 437.5l8 8m-8 0l8-8"/>
<path d="M617.5 437.5l8 8m-8 0l8-8"/>
<path d="M620.5 437.5l8 8m-8 0l8-8"/>
<path d="M623.5 436.5l8 8m-8 0l8-8"/>
<path d="M635.5 435.5l8 8m-8 0l8-8"/>
<path d="M637.5 436.5l8 8m-8 0l8-8"/>
<path d="M639.5 436.5l8 8m-8 0l8-8"/>
<path d="M641.5 436.5l8 8m-8 0l8-8"/>
<path d="M643.5 435.5l8 8m-8 0l8-8"/>
<path d="M645.5 435.5l8 8m-8 0l8-8"/>
<path d="M647.5 436.5l8 8m-8 0l8-8"/>
<path d="M649.5 436.5l8 8m-8 0l8-8"/>
<path d="M649.5 412.5l8 8m-8 0l8-8"/>
<path d="M651.5 413.5l8 8m-8 0l8-8"/>
<path d="M653.5 413.5l8 8m-8 0l8-8"/>
<path d="M655.5 414.5l8 8m-8 0l8-8"/>
<path d="M657.5 414.5l8 8m-8 0l8-8"/>
<path d="M659.5 415.5l8 8m-8 0l8-8"/>
<path d="M661.5 415.5l8 8m-8 0l8-8"/>
<path d="M663.5 415.5l8 8m-8 0l8-8"/>
<path d="M665.5 415.5l8 8m-8 0l8-8"/>
<path d="M667.5 416.5l8 8m-8 0l8-8"/>
<path d="M669.5 417.5l8 8m-8 0l8-8"/>
<path d="M671.5 418.5l8 8m-8 0l8-8"/>
<path d="M673.5 419.5l8 8m-8 0l8-8"/>
<path d="M675.5 418.5l8 8m-8 0l8-8"/>
<path d="M677.5 419.5l8 8m-8 0l8-8"/>
<path d="M679.5 419.5l8 8m-8 0l8-8"/>
<path d="M681.5 420.5l8 8m-8 0l8-8"/>
<path d="M683.5 419.5l8 8m-8 0l8-8"/>
<path d="M685.5 419.5l8 8m-8 0l8-8"/>
<path d="M687.5 419.5l8 8m-8 0l8-8"/>
<path d="M689.5 420.5l8 8m-8 0l8-8"/>
<path d="M691.5 420.5l8 8m-8 0l8-8"/>
<path d="M693.5 421.5l8 8m-8 0l8-8"/>
<path d="M695.5 421.5l8 8m-8 0l8-8"/>
<path d="M697.5 421.5l8 8m-8 0l8-8"/>
<path d="M699.5 421.5l8 8m-8 0l8-8"/>
<path d="M701.5 421.5l8 8m-8 0l8-8"/>
<path d="M702.5 422.5l8 8m-8 0l8-8"/>
<path d="M704.5 421.5l8 8m-8 0l8-8"/>
<path d="M706.5 422.5l8 8m-8 0l8-8"/>
<path d="M708.5 422.5l8 8m-8 0l8-8"/>
<path d="M710.5 422.5l8 8m-8 0l8-8"/>
<path d="M711.5 422.5l8 8m-8 0l8-8"/>
<path d="M713.5 422.5l8 8m-8 0l8-8"/>
<path d="M715.5 422.5l8 8m-8 0l8-8"/>
<path d="M717.5 423.5l8 8m-8 0l8-8"/>
<path d="M719.5 423.5l8 8m-8 0l8-8"/>
<path d="M720.5 423.5l8 8m-8 0l8-8"/>
<path d="M722.5 424.5l8 8m-8 0l8-8"/>
<path d="M724.5 423.5l8 8m-8 0l8-8"/>
<path d="M726.5 424.5l8 8m-8 0l8-8"/>
<path d="M728.5 424.5l8 8m-8 0l8-8"/>
<path d="M729.5 424.5l8 8m-8 0l8-8"/>
<path d="M731.5 424.5l8 8m-8 0l8-8"/>
<path d="M733.5 424.5l8 8m-8 0l8-8"/>
<path d="M735.5 424.5l8 8m-8 0l8-8"/>
<path d="M737.5 425.5l8 8m-8 0l8-8"/>
<path d="M738.5 425.5l8 8m-8 0l8-8"/>
<path d="M740.5 425.5l8 8m-8 0l8-8"/>
<path d="M742.5 426.5l8 8m-8 0l8-8"/>
<path d="M744.5 426.5l8 8m-8 0l8-8"/>
<path d="M746.5 426.5l8 8m-8 0l8-8"/>
<path d="M747.5 426.5l8 8m-8 0l8-8"/>
<path d="M749.5 426.5l8 8m-8 0l8-8"/>
<path d="M751.5 426.5l8 8m-8 0l8-8"/>
<path d="M753.5 426.5l8 8m-8 0l8-8"/>
<path d="M755.5 427.5l8 8m-8 0l8-8"/>
<path d="M756.5 427.5l8 8m-8 0l8-8"/>
<path d="M758.5 427.5l8 8m-8 0l8-8"/>
<path d="M760.5 427.5l8 8m-8 0l8-8"/>
<path d="M762.5 427.5l8 8m-8 0l8-8"/>
<path d="M764.5 427.5l8 8m-8 0l8-8"/>
<path d="M765.5 427.5l8 8m-8 0l8-8"/>
<path d="M767.5 426.5l8 8m-8 0l8-8"/>
<path d="M769.5 426.5l8 8m-8 0l8-8"/>
<path d="M771.5 426.5l8 8m-8 0l8-8"/>
<path d="M773.5 426.5l8 8m-8 0l8-8"/>
<path d="M774.5 426.5l8 8m-8 0l8-8"/>
<path d="M776.5 426.5l8 8m-8 0l8-8"/>
<path d="M778.5 426.5l8 8m-8 0l8-8"/>
<path d="M780.5 426.5l8 8m-8 0l8-8"/>
<path d="M782.5 426.5l8 8m-8 0l8-8"/>
<path d="M783.5 426.5l8 8m-8 0l8-8"/>
<path d="M785.5 426.5l8 8m-8 0l8-8"/>
<path d="M787.5 426.5l8 8m-8 0l8-8"/>
<path d="M789.5 426.5l8 8m-8 0l8-8"/>
<path d="M791.5 426.5l8 8m-8 0l8-8"/>
<path d="M792.5 426.5l8 8m-8 0l8-8"/>
<path d="M794.5 426.5l8 8m-8 0l8-8"/>
<path d="M796.5 426.5l8 8m-8 0l8-8"/>
<path d="M798.5 426.5l8 8m-8 0l8-8"/>
<path d="M800.5 425.5l8 8m-8 0l8-8"/>
<path d="M801.5 425.5l8 8m-8 0l8-8"/>
<path d="M803.5 425.5l8 8m-8 0l8-8"/>
<path d="M805.5 425.5l8 8m-8 0l8-8"/>
<path d="M807.5 426.5l8 8m-8 0l8-8"/>
<path d="M809.5 425.5l8 8m-8 0l8-8"/>
<path d="M810.5 425.5l8 8m-8 0l8-8"/>
<path d="M812.5 425.5l8 8m-8 0l8-8"/>
<path d="M814.5 425.5l8 8m-8 0l8-8"/>
<path d="M816.5 425.5l8 8m-8 0l8-8"/>
<path d="M818.5 425.5l8 8m-8 0l8-8"/>
<path d="M819.5 425.5l8 8m-8 0l8-8"/>
<path d="M821.5 425.5l8 8m-8 0l8-8"/>
<path d="M823.5 425.5l8 8m-8 0l8-8"/>
<path d="M825.5 425.5l8 8m-8 0l8-8"/>
<path d="M827.5 425.5l8 8m-8 0l8-8"/>
<path d="M828.5 424.5l8 8m-8 0l8-8"/>
<path d="M830.5 425.5l8 8m-8 0l8-8"/>
<path d="M832.5 424.5l8 8m-8 0l8-8"/>
<path d="M834.5 424.5l8 8m-8 0l8-8"/>
<path d="M836.5 424.5l8 8m-8 0l8-8"/>
<path d="M837.5 424.5l8 8m-8 0l8-8"/>
<path d="M839.5 423.5l8 8m-8 0l8-8"/>
<path d="M841.5 423.5l8 8m-8 0l8-8"/>
<path d="M843.5 423.5l8 8m-8 0l8-8"/>
<path d="M845.5 423.5l8 8m-8 0l8-8"/>
<path d="M846.5 423.5l8 8m-8 0l8-8"/>
<path d="M848.5 423.5l8 8m-8 0l8-8"/>
<path d="M850.5 423.5l8 8m-8 0l8-8"/>
<path d="M852.5 422.5l8 8m-8 0l8-8"/>
<path d="M854.5 422.5l8 8m-8 0l8-8"/>
<path d="M855.5 422.5l8 8m-8 0l8-8"/>
<path d="M857.5 422.5l8 8m-8 0l8-8"/>
<path d="M859.5 422.5l8 8m-8 0l8-8"/>
<path d="M861.5 421.5l8 8m-8 0l8-8"/>
<path d="M863.5 421.5l8 8m-8 0l8-8"/>
<path d="M864.5 421.5l8 8m-8 0l8-8"/>
<path d="M866.5 421.5l8 8m-8 0l8-8"/>
<path d="M868.5 420.5l8 8m-8 0l8-8"/>
<path d="M870.5 420.5l8 8m-8 0l8-8"/>
<path d="M872.5 420.5l8 8m-8 0l8-8"/>
<path d="M873.5 419.5l8 8m-8 0l8-8"/>
<path d="M875.5 419.5l8 8m-8 0l8-8"/>
<path d="M877.5 419.5l8 8m-8 0l8-8"/>
<path d="M879.5 419.5l8 8m-8 0l8-8"/>
<path d="M881.5 418.5l8 8m-8 0l8-8"/>
<path d="M882.5 418.5l8 8m-8 0l8-8"/>
<path d="M884.5 418.5l8 8m-8 0l8-8"/>
<path d="M886.5 418.5l8 8m-8 0l8-8"/>
<path d="M888.5 417.5l8 8m-8 0l8-8"/>
<path d="M890.5 417.5l8 8m-8 0l8-8"/>
<path d="M891.5 417.5l8 8m-8 0l8-8"/>
<path d="M893.5 417.5l8 8m-8 0l8-8"/>
<path d="M895.5 416.5l8 8m-8 0l8-8"/>
<path d="M897.5 416.5l8 8m-8 0l8-8"/>
<path d="M899.5 416.5l8 8m-8 0l8-8"/>
<path d="M900.5 415.5l8 8m-8 0l8-8"/>
<path d="M902.5 416.5l8 8m-8 0l8-8"/>
<path d="M904.5 415.5l8 8m-8 0l8-8"/>
<path d="M906.5 414.5l8 8m-8 0l8-8"/>
<path d="M908.5 414.5l8 8m-8 0l8-8"/>
<path d="M909.5 414.5l8 8m-8 0l8-8"/>
<path d="M911.5 414.5l8 8m-8 0l8-8"/>
<path d="M913.5 413.5l8 8m-8 0l8-8"/>
<path d="M915.5 413.5l8 8m-8 0l8-8"/>
<path d="M917.5 413.5l8 8m-8 0l8-8"/>
<path d="M918.5 413.5l8 8m-8 0l8-8"/>
<path d="M920.5 413.5l8 8m-8 0l8-8"/>
<path d="M922.5 412.5l8 8m-8 0l8-8"/>
<path d="M924.5 412.5l8 8m-8 0l8-8"/>
<path d="M926.5 412.5l8 8m-8 0l8-8"/>
<path d="M927.5 412.5l8 8m-8 0l8-8"/>
<path d="M929.5 411.5l8 8m-8 0l8-8"/>
<path d="M931.5 411.5l8 8m-8 0l8-8"/>
<path d="M933.5 411.5l8 8m-8 0l8-8"/>
<path d="M712.5 431.5l8 8m-8 0l8-8"/>
<path d="M714.5 431.5l8 8m-8 0l8-8"/>
<path d="M716.5 430.5l8 8m-8 0l8-8"/>
<path d="M718.5 430.5l8 8m-8 0l8-8"/>
<path d="M720.5 430.5l8 8m-8 0l8-8"/>
<path d="M723.5 430.5l8 8m-8 0l8-8"/>
<path d="M725.5 430.5l8 8m-8 0l8-8"/>
<path d="M727.5 429.5l8 8m-8 0l8-8"/>
<path d="M729.5 429.5l8 8m-8 0l8-8"/>
<path d="M731.5 429.5l8 8m-8 0l8-8"/>
<path d="M734.5 429.5l8 8m-8 0l8-8"/>
<path d="M736.5 429.5l8 8m-8 0l8-8"/>
<path d="M738.5 428.5l8 8m-8 0l8-8"/>
<path d="M740.5 429.5l8 8m-8 0l8-8"/>
<path d="M742.5 428.5l8 8m-8 0l8-8"/>
<path d="M745.5 428.5l8 8m-8 0l8-8"/>
<path d="M747.5 428.5l8 8m-8 0l8-8"/>
<path d="M749.5 428.5l8 8m-8 0l8-8"/>
<path d="M751.5 428.5l8 8m-8 0l8-8"/>
<path d="M753.5 427.5l8 8m-8 0l8-8"/>
<path d="M909.5 469.5l8 8m-8 0l8-8"/>
<path d="M910.5 468.5l8 8m-8 0l8-8"/>
<path d="M912.5 468.5l8 8m-8 0l8-8"/>
<path d="M914.5 468.5l8 8m-8 0l8-8"/>
<path d="M916.5 468.5l8 8m-8 0l8-8"/>
<path d="M917.5 467.5l8 8m-8 0l8-8"/>
<path d="M919.5 468.5l8 8m-8 0l8-8"/>
<path d="M921.5 467.5l8 8m-8 0l8-8"/>
<path d="M923.5 467.5l8 8m-8 0l8-8"/>
<path d="M925.5 467.5l8 8m-8 0l8-8"/>
<path d="M926.5 467.5l8 8m-8 0l8-8"/>
<path d="M928.5 467.5l8 8m-8 0l8-8"/>
<path d="M930.5 466.5l8 8m-8 0l8-8"/>
<path d="M932.5 466.5l8 8m-8 0l8-8"/>
<path d="M934.5 466.5l8 8m-8 0l8-8"/>
<path d="M935.5 466.5l8 8m-8 0l8-8"/>
<path d="M798.5 313.5l8 8m-8 0l8-8"/>
<path d="M800.5 313.5l8 8m-8 0l8-8"/>
<path d="M801.5 314.5l8 8m-8 0l8-8"/>
<path d="M802.5 314.5l8 8m-8 0l8-8"/>
<path d="M804.5 314.5l8 8m-8 0l8-8"/>
<path d="M805.5 316.5l8 8m-8 0l8-8"/>
<path d="M807.5 315.5l8 8m-8 0l8-8"/>
<path d="M808.5 316.5l8 8m-8 0l8-8"/>
<path d="M810.5 315.5l8 8m-8 0l8-8"/>
<path d="M811.5 316.5l8 8m-8 0l8-8"/>
<path d="M813.5 315.5l8 8m-8 0l8-8"/>
</g>
<rect x="57.5" y="32.5" width="923.0" height="505.0" fill="none" stroke="#000" stroke-width="1" shape-rendering="crispEdges"/>
<g stroke="#000" stroke-width="1" shape-rendering="crispEdges">
<line x1="188.5" y1="537.5" x2="188.5" y2="542.5"/>
<line x1="356.5" y1="537.5" x2="356.5" y2="542.5"/>
<line x1="524.5" y1="537.5" x2="524.5" y2="542.5"/>
<line x1="692.5" y1="537.5" x2="692.5" y2="542.5"/>
<line x1="860.5" y1="537.5" x2="860.5" y2="542.5"/>
<line x1="52.0" y1="520.5" x2="57.5" y2="520.5"/>
<line x1="52.0" y1="442.5" x2="57.5" y2="442.5"/>
<line x1="52.0" y1="364.5" x2="57.5" y2="364.5"/>
<line x1="52.0" y1="287.5" x2="57.5" y2="287.5"/>
<line x1="52.0" y1="209.5" x2="57.5" y2="209.5"/>
<line x1="52.0" y1="131.5" x2="57.5" y2="131.5"/>
<line x1="52.0" y1="54.5" x2="57.5" y2="54.5"/>
</g>
<g font-size="13.89px" style="filter:opacity(1)">
<text x="187.6" y="557.1" font-size="13.8px" text-anchor="middle">2025-04-06 07:25:00</text>
<text x="355.6" y="557.1" font-size="13.8px" text-anchor="middle">2025-04-06 07:26:00</text>
<text x="523.6" y="557.1" font-size="13.8px" text-anchor="middle">2025-04-06 07:27:00</text>
<text x="691.6" y="557.1" font-size="13.8px" text-anchor="middle">2025-04-06 07:28:00</text>
<text x="859.6" y="557.1" font-size="13.8px" text-anchor="middle">2025-04-06 07:29:00</text>
<text x="46.3" y="525.8" text-anchor="end">0</text>
<text x="46.3" y="447.8" text-anchor="end" textLength="16.5">10</text>
<text x="46.3" y="369.8" text-anchor="end" textLength="16.5">20</text>
<text x="46.3" y="292.8" text-anchor="end" textLength="16.5">30</text>
<text x="46.3" y="214.8" text-anchor="end" textLength="16.5">40</text>
<text x="46.3" y="136.8" text-anchor="end" textLength="16.5">50</text>
<text x="46.3" y="59.8" text-anchor="end" textLength="16.5">60</text>
<text x="519.0" y="576.6" text-anchor="middle">Time (UTC)</text>
<text transform="translate(19.4 285.0) rotate(-90)" text-anchor="middle">Bistatic Delay (km)</text>
</g>
<g style="filter:opacity(1)"><text x="518.3" y="23.5" font-size="16.67px" text-anchor="middle">Detections in Delay</text></g>
</svg></body></html>
